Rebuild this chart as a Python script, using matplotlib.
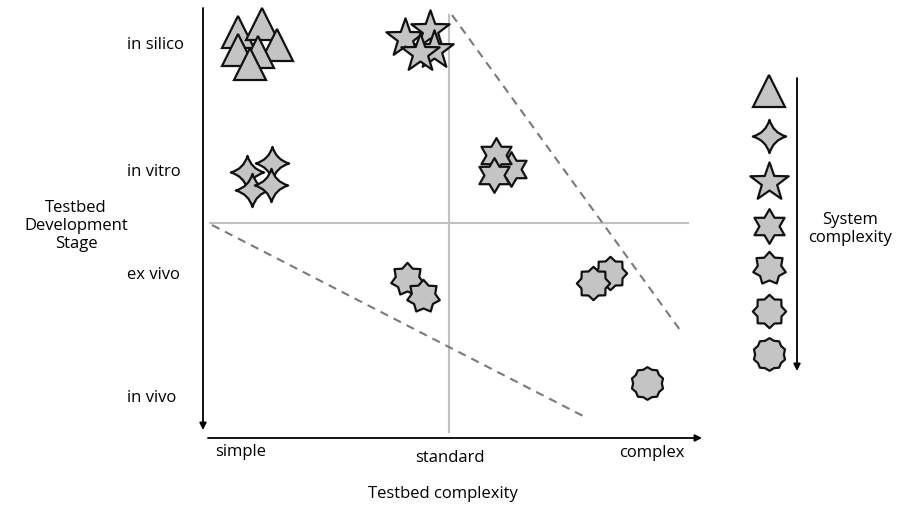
import matplotlib
matplotlib.use("Agg")
import matplotlib.pyplot as plt
from matplotlib.path import Path
import numpy as np

plt.rcParams['font.family'] = ['Open Sans', 'DejaVu Sans']

# ---- data (positions, canvas units: x right, y down) ----
stage_labels = ["in silico", "in vitro", "ex vivo", "in vivo"]
stage_y = [45, 172, 275, 398]
complexity_labels = ["simple", "standard", "complex"]
complexity_x = [241, 450, 652]
complexity_label_y = [452, 458, 453]

tri_x = [238, 262, 277, 238, 258, 250]
tri_y = [32, 24, 45, 50, 52, 64]
star4_x = [247, 272, 252, 271]
star4_y = [172, 163, 190, 185]
star5_x = [405, 430, 434, 420]
star5_y = [38, 30, 50, 53]
star6_x = [511, 496, 494]
star6_y = [169, 155, 175]
star7_x = [407, 423]
star7_y = [279, 296]
star8_x = [610, 593]
star8_y = [273, 283]
star10_x = [647]
star10_y = [383]

legend_y = [91, 136, 182, 226, 268, 311, 354]
legend_x = 769

grid_v_x = 449
grid_h_y = 223

dash1_x = [452, 680]
dash1_y = [15, 330]
dash2_x = [212, 585]
dash2_y = [225, 417]

fill = '#c4c4c4'
edge = '#111111'


def star(n, inner):
    return Path.unit_regular_star(n, innerCircle=inner)


def curved_star4(c=0.22):
    tips = [(0, 1), (1, 0), (0, -1), (-1, 0)]
    verts = [tips[0]]
    codes = [Path.MOVETO]
    for i in range(4):
        a = tips[i]
        b = tips[(i + 1) % 4]
        ctrl = (np.sign(a[0] + b[0]) * c, np.sign(a[1] + b[1]) * c)
        verts += [ctrl, b]
        codes += [Path.CURVE3, Path.CURVE3]
    verts.append(tips[0])
    codes.append(Path.CLOSEPOLY)
    return Path(verts, codes)


markers = {
    'tri': ('^', 23),
    's4': (curved_star4(), 24),
    's5': (star(5, 0.40), 29),
    's6': (star(6, 0.58), 25),
    's7': (star(7, 0.72), 24),
    's8': (star(8, 0.78), 24),
    's10': (star(10, 0.88), 23.5),
}

fig = plt.figure(figsize=(8.98, 5.07), dpi=100)
ax = fig.add_axes([0, 0, 1, 1])
ax.set_xlim(0, 898)
ax.set_ylim(507, 0)
ax.axis('off')

# gray quadrant lines
ax.plot([grid_v_x, grid_v_x], [15, 432], color='#c0c0c0', lw=1.5, zorder=1)
ax.plot([210, 688], [grid_h_y, grid_h_y], color='#c0c0c0', lw=1.5, zorder=1)

# dashed lines
ax.plot(dash1_x, dash1_y, color='#7a7a7a', lw=1.5, ls=(0, (4, 3)), zorder=1)
ax.plot(dash2_x, dash2_y, color='#7a7a7a', lw=1.5, ls=(0, (4, 3)), zorder=1)

# axes arrows
arrow_kw = dict(arrowstyle='-|>', color='black', lw=1.3, mutation_scale=10,
                shrinkA=0, shrinkB=0)
ax.annotate('', xy=(203, 430), xytext=(203, 8), arrowprops=arrow_kw)
ax.annotate('', xy=(702, 438), xytext=(208, 438), arrowprops=arrow_kw)
ax.annotate('', xy=(797, 371), xytext=(797, 78), arrowprops=arrow_kw)


def draw(kind, xs, ys):
    m, ms = markers[kind]
    for x, y in zip(xs, ys):
        ax.plot([x], [y], marker=m, markersize=ms, markerfacecolor=fill,
                markeredgecolor=edge, markeredgewidth=1.6, ls='none', zorder=3)

draw('tri', tri_x, tri_y)
draw('s4', star4_x, star4_y)
draw('s5', star5_x, star5_y)
draw('s6', star6_x, star6_y)
draw('s7', star7_x, star7_y)
draw('s8', star8_x, star8_y)
draw('s10', star10_x, star10_y)

# legend column
for kind, y in zip(['tri', 's4', 's5', 's6', 's7', 's8', 's10'], legend_y):
    draw(kind, [legend_x], [y])

ax.text(850, 229, "System\ncomplexity", ha='center', va='center', fontsize=12,
        linespacing=1.2)

# labels
for lab, y in zip(stage_labels, stage_y):
    ax.text(127, y, lab, ha='left', va='center', fontsize=12)
for lab, x, y in zip(complexity_labels, complexity_x, complexity_label_y):
    ax.text(x, y, lab, ha='center', va='center', fontsize=12)

ax.text(76, 226, "Testbed\nDevelopment\nStage", ha='center', va='center',
        fontsize=12, linespacing=1.2)
ax.text(443, 494, "Testbed complexity", ha='center', va='center', fontsize=12)

fig.savefig('out.png', dpi=100)
